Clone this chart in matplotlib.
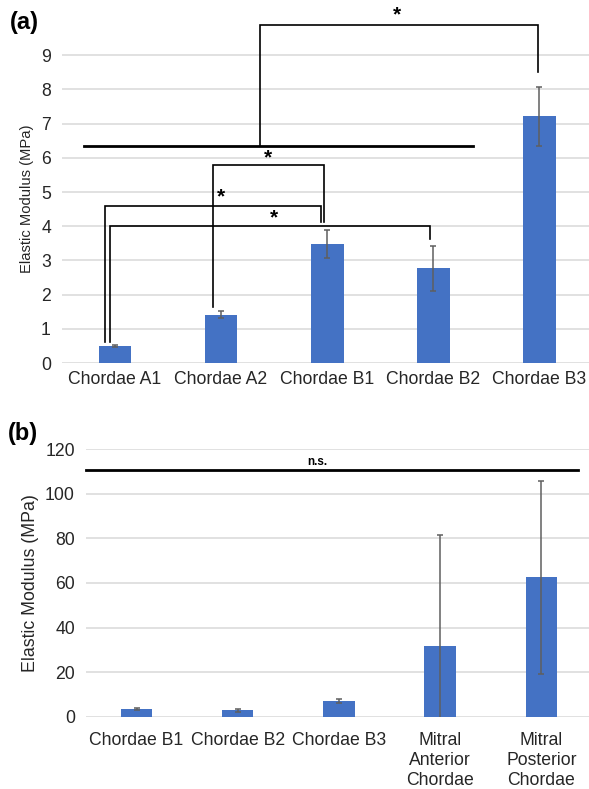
#!/usr/bin/env python3
"""
Elastic modulus of chordae groups, two-panel bar chart with significance brackets
"""

import matplotlib
matplotlib.use("Agg")
import matplotlib.pyplot as plt
import numpy as np

plt.rcParams['font.family'] = ['Liberation Sans', 'DejaVu Sans']

# Panel (a) data
cats_a = ['Chordae A1', 'Chordae A2', 'Chordae B1', 'Chordae B2', 'Chordae B3']
mean_a = [0.50, 1.41, 3.48, 2.77, 7.21]
err_a = [0.03, 0.10, 0.40, 0.66, 0.87]

# Panel (b) data
cats_b = ['Chordae B1', 'Chordae B2', 'Chordae B3',
          'Mitral\nAnterior\nChordae', 'Mitral\nPosterior\nChordae']
mean_b = [3.5, 2.8, 7.1, 31.8, 62.5]
err_b = [0.4, 0.66, 0.87, 49.6, 43.3]

BAR = '#4472C4'
GRID = '#d9d9d9'
ERR = '#5f5f5f'


def style_axes(ax, xpad=7):
    for s in ax.spines.values():
        s.set_visible(False)
    ax.yaxis.grid(True, color=GRID, linewidth=1.1)
    ax.set_axisbelow(True)
    ax.tick_params(axis='both', length=0, labelsize=12.7, colors='#262626')
    ax.tick_params(axis='x', pad=xpad)
    ax.tick_params(axis='y', pad=8)


fig = plt.figure(figsize=(5.89, 7.89), dpi=100)

# ---- panel (a)
ax1 = fig.add_axes([0.1053, 0.5399, 0.9, 0.4161])
xa = np.arange(len(cats_a))
ax1.bar(xa, mean_a, width=0.31, color=BAR, zorder=2)
ax1.errorbar(xa, mean_a, yerr=err_a, fmt='none', ecolor=ERR, elinewidth=1.1,
             capsize=2.5, capthick=1.1, zorder=3)
ax1.set_xlim(-0.5, 4.5)
ax1.set_ylim(0, 9.6)
ax1.set_yticks(range(0, 10))
ax1.set_xticks(xa)
ax1.set_xticklabels(cats_a)
ax1.set_ylabel('Elastic Modulus (MPa)', fontsize=10.6, color='#262626', labelpad=5)
style_axes(ax1, xpad=6)

# brackets: (x_left, x_right, y_top, y_left_end, y_right_end, star_x, star_y)
brackets_a = [
    (1.37, 3.99, 9.88, 6.34, 8.50, 2.66, 10.17),
    (0.925, 1.97, 5.79, 1.64, 4.13, 1.44, 5.99),
    (-0.094, 1.94, 4.59, 0.60, 4.13, 1.00, 4.85),
    (-0.047, 2.975, 4.00, 0.60, 3.62, 1.50, 4.24),
]
for xl, xr, yt, yl, yr, sx, sy in brackets_a:
    ax1.plot([xl, xl, xr, xr], [yl, yt, yt, yr], color='black', lw=1.2,
             clip_on=False, zorder=4, solid_joinstyle='miter')
    ax1.text(sx, sy, '*', ha='center', va='center', fontsize=15,
             fontweight='bold', zorder=5, clip_on=False)
# group line under the top bracket
ax1.plot([-0.29, 3.38], [6.34, 6.34], color='black', lw=2, zorder=4)

fig.text(0.017, 0.972, '(a)', fontsize=17, fontweight='bold', va='center')

# ---- panel (b)
ax2 = fig.add_axes([0.146, 0.0916, 0.859, 0.339])
xb = np.arange(len(cats_b))
ax2.bar(xb, mean_b, width=0.31, color=BAR, zorder=2)
ax2.errorbar(xb, mean_b, yerr=err_b, fmt='none', ecolor=ERR, elinewidth=1.1,
             capsize=2.5, capthick=1.1, zorder=3)
ax2.set_xlim(-0.5, 4.5)
ax2.set_ylim(0, 120)
ax2.set_yticks(range(0, 121, 20))
ax2.set_xticks(xb)
ax2.set_xticklabels(cats_b, linespacing=1.22)
ax2.set_ylabel('Elastic Modulus (MPa)', fontsize=12.8, color='#262626', labelpad=4)
style_axes(ax2, xpad=11)

ax2.plot([-0.5, 4.36], [110.7, 110.7], color='black', lw=2, zorder=4, clip_on=False)
ax2.text(1.79, 114.5, 'n.s.', ha='center', va='center', fontsize=8.5,
         fontweight='bold')

fig.text(0.013, 0.45, '(b)', fontsize=17, fontweight='bold', va='center')

fig.savefig('out.png', dpi=100)
